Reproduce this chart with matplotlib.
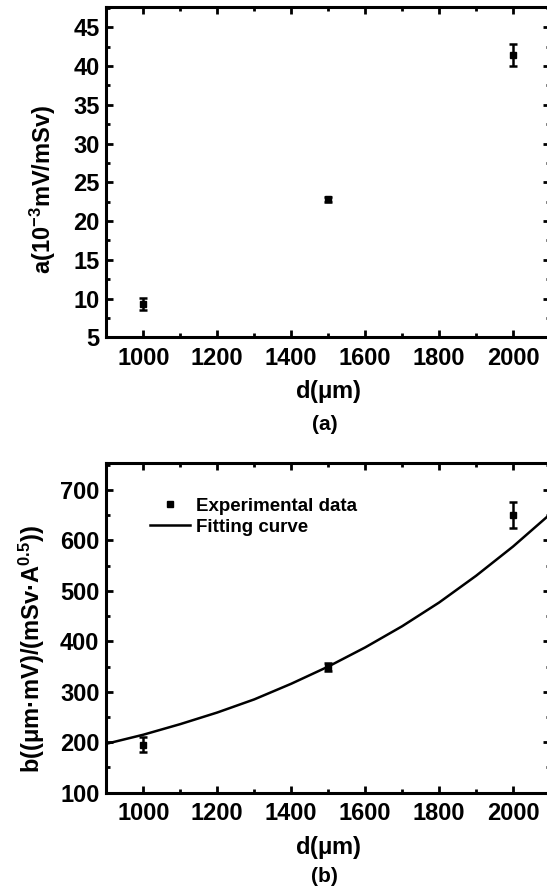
import matplotlib
matplotlib.use("Agg")
import matplotlib.pyplot as plt
from matplotlib.lines import Line2D
from matplotlib.ticker import MultipleLocator

plt.rcParams["font.family"] = ["Liberation Sans", "DejaVu Sans"]
plt.rcParams["font.weight"] = "bold"
plt.rcParams["mathtext.fontset"] = "custom"
plt.rcParams["mathtext.rm"] = "Liberation Sans:bold"
plt.rcParams["mathtext.bf"] = "Liberation Sans:bold"
plt.rcParams["mathtext.sf"] = "Liberation Sans"
plt.rcParams["mathtext.default"] = "regular"

# data
d = [1000, 1500, 2000]
a_val = [9.3, 22.8, 41.4]
a_err = [0.8, 0.35, 1.4]
b_val = [195, 349, 650]
b_err = [15, 8, 26]

# fitting curve, read every 100 um
fit_d = [900, 1000, 1100, 1200, 1300, 1400, 1500, 1600, 1700, 1800, 1900, 2000, 2100]
fit_b = [197, 215, 236, 259, 285, 316, 350, 388, 430, 477, 530, 588, 652]

x_ticks = [1000, 1200, 1400, 1600, 1800, 2000]

fig = plt.figure(figsize=(5.47, 8.93), dpi=100)
ax1 = fig.add_axes([0.1945, 0.6223, 0.811, 0.3702])
ax2 = fig.add_axes([0.1945, 0.1123, 0.811, 0.3689])

FS = 17


def style(ax):
    for s in ax.spines.values():
        s.set_linewidth(2.2)
    ax.xaxis.set_major_locator(MultipleLocator(200))
    ax.xaxis.set_minor_locator(MultipleLocator(100))
    ax.tick_params(which="both", direction="in", top=True, right=True, width=2,
                   labelsize=FS)
    ax.tick_params(axis="x", pad=7)
    ax.tick_params(axis="y", pad=5)
    ax.tick_params(which="major", length=5)
    ax.tick_params(which="minor", length=3)
    ax.set_xlim(900, 2100)
    ax.set_xticks(x_ticks)
    for lab in ax.get_xticklabels() + ax.get_yticklabels():
        lab.set_fontweight("bold")
    ax.set_xlabel(r"d$\mathsf{(μm)}$", fontsize=FS, fontweight="bold", labelpad=6)


# (a)
ax1.errorbar(d, a_val, yerr=a_err, fmt="s", color="black", markersize=4,
             elinewidth=1.8, capsize=3, capthick=1.8)
style(ax1)
ax1.set_ylim(5, 47.66)
ax1.yaxis.set_major_locator(MultipleLocator(5))
ax1.yaxis.set_minor_locator(MultipleLocator(2.5))
ax1.set_ylabel(r"a(10$^{-3}$mV/mSv)", fontsize=FS, fontweight="bold")
ax1.yaxis.set_label_coords(-0.108, 0.4456)
fig.text(0.594, 0.525, "(a)", ha="center", va="center", fontsize=15, fontweight="bold")

# (b)
ax2.errorbar(d, b_val, yerr=b_err, fmt="s", color="black", markersize=4,
             elinewidth=1.8, capsize=3, capthick=1.8)
ax2.plot(fit_d, fit_b, color="black", linewidth=1.8)
style(ax2)
ax2.set_ylim(100, 753)
ax2.yaxis.set_major_locator(MultipleLocator(100))
ax2.yaxis.set_minor_locator(MultipleLocator(50))
ax2.set_ylabel(r"b($\mathsf{(μm}$·mV)/(mSv·A$^{0.5}$))", fontsize=FS, fontweight="bold")
ax2.yaxis.set_label_coords(-0.135, 0.436)
handles = [Line2D([], [], linestyle="none", marker="s", color="black", markersize=5),
           Line2D([], [], color="black", linewidth=1.8)]
ax2.legend(handles, ["Experimental data", "Fitting curve"], loc="upper left",
           bbox_to_anchor=(0.099, 0.896), borderaxespad=0, borderpad=0, frameon=False,
           prop={"size": 13.5, "weight": "bold"}, handlelength=2.1, handletextpad=0.32,
           labelspacing=0.2)
fig.text(0.594, 0.018, "(b)", ha="center", va="center", fontsize=15, fontweight="bold")

fig.savefig("out.png", dpi=100)
